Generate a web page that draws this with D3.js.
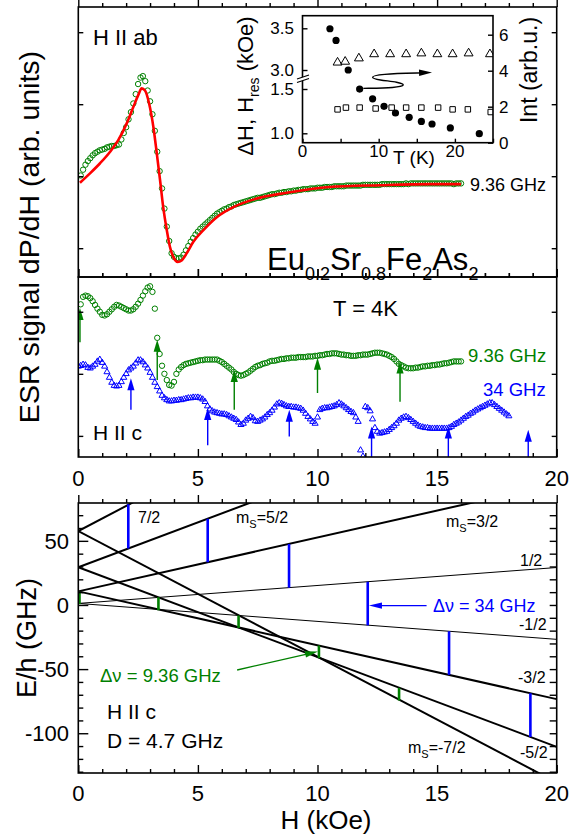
<!DOCTYPE html>
<meta charset="utf-8" />
<style>body { margin: 0; } svg { display: block; }</style>
<svg width="571" height="838"></svg>
<script src="https://d3js.org/d3.v7.min.js"></script>
<script>
    // ---- data ----
    var fieldTicks = d3.range(0, 21);
    var fieldLabels = [0, 5, 10, 15, 20];
    var step = 0.1; // field sweep step, kOe

    // top panel, H || ab, 9.36 GHz (starts at 0.1 kOe)
    var abStart = 0.1;
    var abSig = [
        1.01, 1.09, 1.16, 1.21, 1.25, 1.29, 1.32, 1.34, 1.36, 1.37,
        1.38, 1.40, 1.41, 1.42, 1.42, 1.43, 1.44, 1.51, 1.60, 1.68,
        1.79, 1.89, 2.01, 2.14, 2.28, 2.37, 2.39, 2.32, 2.19, 2.04,
        1.86, 1.63, 1.34, 1.07, 0.83, 0.55, 0.30, 0.10, -0.07, -0.12,
        -0.14, -0.14, -0.13, -0.09, -0.03, 0.03, 0.09, 0.14, 0.19, 0.23,
        0.27, 0.30, 0.33, 0.36, 0.39, 0.42, 0.45, 0.48, 0.50, 0.52,
        0.54, 0.55, 0.57, 0.58, 0.60, 0.61, 0.62, 0.63, 0.64, 0.65,
        0.66, 0.67, 0.68, 0.69, 0.70, 0.70, 0.71, 0.72, 0.73, 0.74,
        0.75, 0.75, 0.76, 0.77, 0.77, 0.78, 0.78, 0.79, 0.79, 0.80,
        0.80, 0.81, 0.81, 0.82, 0.82, 0.82, 0.83, 0.83, 0.83, 0.84,
        0.84, 0.84, 0.85, 0.85, 0.85, 0.85, 0.86, 0.86, 0.86, 0.86,
        0.86, 0.87, 0.87, 0.87, 0.87, 0.87, 0.87, 0.87, 0.88, 0.88,
        0.88, 0.88, 0.88, 0.88, 0.88, 0.88, 0.89, 0.89, 0.89, 0.89,
        0.89, 0.89, 0.89, 0.89, 0.89, 0.89, 0.90, 0.89, 0.90, 0.90,
        0.90, 0.90, 0.90, 0.90, 0.90, 0.90, 0.90, 0.90, 0.90, 0.90,
        0.90, 0.90, 0.90, 0.90, 0.90, 0.90, 0.89, 0.90, 0.90, 0.90
    ];
    // fit (red)
    var fitH = [0.07, 0.49, 0.91, 1.33, 1.67, 2.02, 2.30, 2.51, 2.65, 2.79, 2.96, 3.14, 3.28, 3.42, 3.55, 3.70,
        3.83, 3.97, 4.16, 4.32, 4.53, 4.81, 5.23, 5.79, 6.48, 7.46, 8.71, 10.5, 12.6, 14.7, 16.0];
    var fitSig = [0.91, 1.04, 1.18, 1.34, 1.50, 1.73, 1.96, 2.13, 2.22, 2.19, 2.01, 1.68, 1.32, 0.94, 0.57, 0.25,
        0.02, -0.12, -0.19, -0.17, -0.07, 0.09, 0.25, 0.43, 0.57, 0.69, 0.77, 0.85, 0.875, 0.89, 0.89];

    // middle panel, H || c, 9.36 GHz
    var cStart = 0.1;
    var cSig = [
        2.12, 2.24, 2.26, 2.25, 2.22, 2.17, 2.11, 2.05, 2.00, 1.95,
        1.94, 1.96, 2.00, 2.04, 2.08, 2.11, 2.10, 2.08, 2.06, 2.04,
        2.02, 2.02, 2.04, 2.08, 2.13, 2.19, 2.26, 2.33, 2.39, 2.41,
        2.32, 2.05, 1.58, 1.32, 1.13, 1.00, 0.90, 0.82, 0.81, 0.87,
        1.00, 1.07, 1.11, 1.14, 1.16, 1.17, 1.18, 1.19, 1.20, 1.21,
        1.22, 1.22, 1.23, 1.23, 1.23, 1.23, 1.23, 1.23, 1.21, 1.19,
        1.16, 1.13, 1.10, 1.07, 1.03, 1.00, 0.98, 0.97, 0.98, 1.00,
        1.02, 1.05, 1.08, 1.11, 1.13, 1.14, 1.16, 1.17, 1.18, 1.20,
        1.21, 1.21, 1.22, 1.23, 1.24, 1.24, 1.25, 1.25, 1.26, 1.26,
        1.26, 1.27, 1.27, 1.27, 1.27, 1.28, 1.28, 1.28, 1.29, 1.29,
        1.30, 1.30, 1.31, 1.32, 1.32, 1.33, 1.33, 1.33, 1.32, 1.31,
        1.31, 1.30, 1.30, 1.29, 1.29, 1.29, 1.30, 1.30, 1.31, 1.31,
        1.31, 1.32, 1.33, 1.34, 1.34, 1.34, 1.33, 1.32, 1.31, 1.29,
        1.27, 1.24, 1.20, 1.16, 1.14, 1.12, 1.10, 1.09, 1.09, 1.09,
        1.10, 1.10, 1.11, 1.12, 1.12, 1.13, 1.13, 1.14, 1.14, 1.15,
        1.15, 1.16, 1.17, 1.17, 1.18, 1.19, 1.20, 1.20, 1.20, 1.20
    ];
    // middle panel, H || c, 34 GHz
    var qStart = 0.0;
    var qSig = [
        1.12, 1.13, 1.15, 1.14, 1.10, 1.09, 1.12, 1.15, 1.20, 1.23,
        1.18, 1.12, 1.03, 0.94, 0.86, 0.81, 0.80, 0.81, 0.87, 0.94,
        1.00, 1.06, 1.09, 1.12, 1.17, 1.22, 1.22, 1.19, 1.14, 1.09,
        1.02, 0.94, 0.86, 0.79, 0.72, 0.65, 0.61, 0.58, 0.56, 0.56,
        0.57, 0.57, 0.58, 0.58, 0.59, 0.60, 0.61, 0.61, 0.62, 0.62,
        0.62, 0.61, 0.59, 0.55, 0.48, 0.43, 0.40, 0.38, 0.37, 0.36,
        0.35, 0.35, 0.34, 0.32, 0.30, 0.28, 0.26, 0.22, 0.18, 0.20,
        0.25, 0.28, 0.31, 0.29, 0.24, 0.23, 0.25, 0.27, 0.30, 0.34,
        0.37, 0.41, 0.46, 0.51, 0.53, 0.52, 0.50, 0.48, 0.47, 0.47,
        0.46, 0.46, 0.45, 0.44, 0.41, 0.36, 0.31, 0.27, 0.23, 0.20,
        0.30, 0.42, 0.44, 0.45, 0.45, 0.46, 0.47, 0.48, 0.50, 0.53,
        0.51, 0.48, 0.45, 0.42, 0.39, 0.37, 0.30, 0.23, -0.23, -0.33,
        0.47, 0.45, 0.40, 0.27, 0.13, 0.07, 0.04, 0.05, 0.06, 0.07,
        0.10, 0.13, 0.16, 0.20, 0.25, 0.28, 0.30, 0.31, 0.29, 0.26,
        0.23, 0.20, 0.17, 0.15, 0.14, 0.13, 0.13, 0.12, 0.12, 0.12,
        0.12, 0.12, 0.12, 0.12, 0.12, 0.13, 0.15, 0.18, 0.20, 0.22,
        0.25, 0.28, 0.31, 0.33, 0.36, 0.38, 0.41, 0.43, 0.45, 0.47,
        0.49, 0.51, 0.53, 0.53, 0.50, 0.47, 0.44, 0.41, 0.38, 0.35,
        0.32
    ];
    // resonance arrows (H, tip, tail)
    var gArrH = [0.07, 3.3, 6.52, 10.0, 13.45];
    var gArrTip = [2.06, 1.55, 1.06, 1.26, 1.20];
    var gArrTail = [1.51, 0.90, 0.42, 0.69, 0.55];
    var bArrH = [2.2, 5.41, 8.82, 12.26, 15.47, 18.81];
    var bArrTip = [0.93, 0.45, 0.42, 0.15, 0.15, 0.10];
    var bArrTail = [0.42, -0.15, -0.01, -0.34, -0.34, -0.34];

    // inset: T dependence
    var intT = [3.6, 4.4, 6.0, 7.5, 9.2, 10.7, 12.2, 14.0, 15.6, 17.0, 19.4, 23.2];
    var intVal = [6.33, 5.68, 4.04, 2.98, 2.44, 2.02, 1.65, 1.41, 1.18, 1.04, 0.82, 0.50];
    var resT = [4.6, 5.6, 7.4, 9.4, 11.5, 13.6, 15.6, 17.7, 19.7, 21.8, 24.6];
    var resH = [3.09, 3.10, 3.14, 3.19, 3.19, 3.19, 3.20, 3.19, 3.19, 3.20, 3.19];
    var widT = [4.6, 5.7, 7.5, 9.6, 11.7, 13.6, 15.6, 17.8, 19.7, 21.7, 24.7];
    var widH = [1.27, 1.29, 1.29, 1.28, 1.29, 1.29, 1.29, 1.29, 1.27, 1.27, 1.24];
    var insetLeftTicks = [1.0, 1.5, 3.0, 3.5];
    var insetRightTicks = [0, 2, 4, 6];
    var insetTTicks = [0, 5, 10, 15, 20, 25];

    // bottom panel: energy levels, E/h at H=0 and H=20 kOe
    var levelM = ["7/2", "5/2", "3/2", "1/2", "-1/2", "-3/2", "-5/2", "-7/2"];
    var levelE0 = [57.6, 29.4, 10.6, 1.2, 1.2, 10.6, 29.4, 57.6];
    var levelE20 = [253.6, 169.4, 94.6, 29.2, -26.8, -73.4, -110.6, -138.4];
    var levelThin = [false, false, false, true, true, false, false, false];
    var blueTrH = [2.09, 5.41, 8.81, 12.1, 15.5, 18.9];
    var blueTrLo = [44.0, 33.3, 13.5, -15.9, -54.5, -103];
    var blueTrHi = [78.5, 67.3, 47.6, 18.1, -20.5, -68.8];
    var greenTrH = [0.05, 3.35, 6.7, 10.06, 13.41];
    var greenTrLo = [0.5, -4.2, -18, -41.5, -74.5];
    var greenTrHi = [10.3, 6.0, -8.2, -31.6, -64.6];
    var eLabels = [50, 0, -50, -100];
    var eTicks = d3.range(-130, 80, 10);

    // ---- setup ----
    var svg = d3.select("svg")
        .style("font-family", "'Liberation Sans', Arial, sans-serif");
    svg.append("rect").attr("width", 571).attr("height", 838).attr("fill", "#fff");

    var green = "#008000", blue = "#0000ff", red = "#ff0000";

    var x = d3.scaleLinear().domain([0, 20]).range([78.3, 556.7]);
    var yTop = d3.scaleLinear().domain([-0.4, 3.35]).range([277, 7]);
    var yMid = d3.scaleLinear().domain([-0.34, 2.56]).range([457, 277]);
    var yBot = d3.scaleLinear().domain([-131, 79.5]).range([773, 503]);
    var tx = d3.scaleLinear().domain([0, 25]).range([302.5, 493]);
    var tyL = d3.scaleLinear().domain([1.0, 1.5, 3.0, 3.5]).range([133.3, 89, 70, 28.3]);
    var tyR = d3.scaleLinear().domain([0, 6]).range([142.7, 34.7]);

    function clip(id, x0, y0, x1, y1) {
        svg.append("clipPath").attr("id", id).append("rect")
            .attr("x", x0).attr("y", y0).attr("width", x1 - x0).attr("height", y1 - y0);
        return "url(#" + id + ")";
    }

    function axis(gen, pos, horiz, vals, inner, major, majorLen) {
        var g = svg.append("g")
            .attr("transform", horiz ? "translate(0," + pos + ")" : "translate(" + pos + ",0)")
            .call(gen.tickValues(vals).tickSizeOuter(0).tickSizeInner(-inner).tickFormat(""));
        g.select(".domain").remove();
        g.selectAll(".tick line").attr("stroke-width", 1.4);
        if (major) {
            g.selectAll(".tick line").filter(major)
                .attr(horiz ? "y2" : "x2", function() {
                    var v = +d3.select(this).attr(horiz ? "y2" : "x2");
                    return v < 0 ? -majorLen : majorLen;
                });
        }
        return g;
    }
    function isFive(d) { return d % 5 === 0; }

    function frame(x0, y0, x1, y1) {
        svg.append("rect").attr("x", x0).attr("y", y0).attr("width", x1 - x0).attr("height", y1 - y0)
            .attr("fill", "none").attr("stroke", "#000").attr("stroke-width", 1.6);
    }

    function text(t, xx, yy, size, color, anchor) {
        return svg.append("text").attr("x", xx).attr("y", yy).attr("font-size", size)
            .attr("fill", color || "#000").attr("text-anchor", anchor || "start").text(t);
    }

    function head(g, x1, y1, x2, y2, len, half, color) {
        var a = Math.atan2(y2 - y1, x2 - x1);
        var bx = x2 - len * Math.cos(a), by = y2 - len * Math.sin(a);
        var px = -Math.sin(a) * half, py = Math.cos(a) * half;
        g.append("path")
            .attr("d", "M" + x2 + "," + y2 + "L" + (bx + px) + "," + (by + py) + "L" + (bx - px) + "," + (by - py) + "Z")
            .attr("fill", color);
    }

    // ---- top panel ----
    var topClip = clip("ctop", 78.3, 7, 556.7, 277);
    var abPts = abSig.map(function(v, i) { return [abStart + i * step, v]; });
    svg.append("g").attr("clip-path", topClip).selectAll("circle").data(abPts).enter().append("circle")
        .attr("cx", function(d) { return x(d[0]); })
        .attr("cy", function(d) { return yTop(d[1]); })
        .attr("r", 2.7).attr("fill", "none").attr("stroke", green).attr("stroke-width", 1);
    var fitPts = fitH.map(function(h, i) { return [h, fitSig[i]]; });
    svg.append("path").attr("clip-path", topClip).datum(fitPts)
        .attr("d", d3.line().x(function(d) { return x(d[0]); }).y(function(d) { return yTop(d[1]); }).curve(d3.curveMonotoneX))
        .attr("fill", "none").attr("stroke", red).attr("stroke-width", 2.6);

    axis(d3.axisTop(x), 7, true, fieldTicks, -4, isFive, 8);
    axis(d3.axisBottom(x), 277, true, fieldTicks, 4, isFive, 8);
    axis(d3.axisLeft(yTop), 78.3, false, [0, 1, 2, 3], 5);
    axis(d3.axisRight(yTop), 556.7, false, [0, 1, 2, 3], 5);
    frame(78.3, 7, 556.7, 277);

    text("H II ab", 93, 45, 22);
    text("9.36 GHz", 470, 190.5, 18);
    var formula = svg.append("text").attr("x", 267).attr("y", 270);
    [["Eu", 0], ["0.2", 1], ["Sr", 0], ["0.8", 1], ["Fe", 0], ["2", 1], ["As", 0], ["2", 1]].forEach(function(p) {
        formula.append("tspan").attr("y", p[1] ? 280 : 270).attr("font-size", p[1] ? 18 : 31).text(p[0]);
    });

    // ---- inset ----
    var insClip = clip("cins", 302.5, 15.7, 493, 142.7);
    var ins = svg.append("g").attr("clip-path", insClip);
    ins.selectAll(".ci").data(intT).enter().append("circle")
        .attr("cx", function(d) { return tx(d); })
        .attr("cy", function(d, i) { return tyR(intVal[i]); })
        .attr("r", 3.6).attr("fill", "#000");
    ins.selectAll(".tr").data(resT).enter().append("path")
        .attr("transform", function(d, i) { return "translate(" + tx(d) + "," + tyL(resH[i]) + ")"; })
        .attr("d", d3.symbol().type(d3.symbolTriangle).size(34))
        .attr("fill", "none").attr("stroke", "#000").attr("stroke-width", 1);
    ins.selectAll(".sq").data(widT).enter().append("path")
        .attr("transform", function(d, i) { return "translate(" + tx(d) + "," + tyL(widH[i]) + ")"; })
        .attr("d", d3.symbol().type(d3.symbolSquare).size(30))
        .attr("fill", "none").attr("stroke", "#000").attr("stroke-width", 1);

    // S-shaped arrow from Int circles to the right axis
    var sPath = [[7.98, 3.02], [12.3, 3.05], [13.6, 3.2], [12.6, 3.37], [10.0, 3.48], [8.8, 3.63], [10.0, 3.82], [16.0, 3.88]];
    var sg = svg.append("g");
    sg.append("path").datum(sPath)
        .attr("d", d3.line().x(function(d) { return tx(d[0]); }).y(function(d) { return tyR(d[1]); }).curve(d3.curveBasis))
        .attr("fill", "none").attr("stroke", "#000").attr("stroke-width", 1.4);
    head(sg, tx(15.0), tyR(3.88), tx(17.0), tyR(3.9), 13, 3.3, "#000");

    axis(d3.axisBottom(tx), 142.7, true, insetTTicks, 4);
    axis(d3.axisLeft(tyL), 302.5, false, insetLeftTicks, 5);
    axis(d3.axisRight(tyR), 493, false, insetRightTicks, 5);
    frame(302.5, 15.7, 493, 142.7);
    // axis break
    svg.append("path").attr("d", "M297,79L309,75L309,78.5L297,82.5Z").attr("fill", "#fff");
    svg.append("path").attr("d", "M297,79L309,75M297,82.5L309,78.5").attr("stroke", "#000").attr("stroke-width", 1.2);

    svg.selectAll(".ilab").data(insetLeftTicks).enter().append("text")
        .attr("x", 294).attr("y", function(d) { return tyL(d) + 6; })
        .attr("text-anchor", "end").attr("font-size", 17).text(function(d) { return d.toFixed(1); });
    svg.selectAll(".irab").data(insetRightTicks).enter().append("text")
        .attr("x", 499).attr("y", function(d) { return tyR(d) + 6; })
        .attr("font-size", 17).text(function(d) { return d; });
    svg.selectAll(".itab").data([0, 10, 20]).enter().append("text")
        .attr("x", function(d) { return tx(d); }).attr("y", 157)
        .attr("text-anchor", "middle").attr("font-size", 17).text(function(d) { return d; });
    text("T (K)", 414, 164, 19, "#000", "middle");
    var lt = svg.append("text").attr("transform", "translate(253,86) rotate(-90)")
        .attr("text-anchor", "middle").attr("font-size", 22);
    lt.append("tspan").text("ΔH, H");
    lt.append("tspan").attr("font-size", 14).attr("dy", 6).text("res");
    lt.append("tspan").attr("dy", -6).text(" (kOe)");
    svg.append("text").attr("transform", "translate(537,70) rotate(-90)")
        .attr("text-anchor", "middle").attr("font-size", 23).text("Int (arb.u.)");

    // ---- middle panel ----
    var midClip = clip("cmid", 78.3, 277, 556.7, 457);
    var cPts = cSig.map(function(v, i) { return [cStart + i * step, v]; });
    var qPts = qSig.map(function(v, i) { return [qStart + i * step, v]; });
    var mid = svg.append("g").attr("clip-path", midClip);
    mid.selectAll(".cc").data(cPts).enter().append("circle")
        .attr("cx", function(d) { return x(d[0]); })
        .attr("cy", function(d) { return yMid(d[1]); })
        .attr("r", 2.7).attr("fill", "none").attr("stroke", green).attr("stroke-width", 1);
    mid.selectAll(".qq").data(qPts).enter().append("path")
        .attr("transform", function(d) { return "translate(" + x(d[0]) + "," + yMid(d[1]) + ")"; })
        .attr("d", d3.symbol().type(d3.symbolTriangle).size(16))
        .attr("fill", "none").attr("stroke", blue).attr("stroke-width", 1);

    function upArrows(hs, tips, tails, color) {
        hs.forEach(function(h, i) {
            var xx = x(h), yt = yMid(tips[i]), yb = yMid(tails[i]);
            mid.append("line").attr("x1", xx).attr("x2", xx).attr("y1", yb).attr("y2", yt + 6)
                .attr("stroke", color).attr("stroke-width", 1.4);
            head(mid, xx, yb, xx, yt, 12, 3.6, color);
        });
    }
    upArrows(gArrH, gArrTip, gArrTail, green);
    upArrows(bArrH, bArrTip, bArrTail, blue);

    axis(d3.axisBottom(x), 457, true, fieldTicks, 4, isFive, 8);
    axis(d3.axisTop(x), 277, true, fieldTicks, -4, isFive, 8);
    axis(d3.axisLeft(yMid), 78.3, false, [0, 1, 2], 5);
    axis(d3.axisRight(yMid), 556.7, false, [0, 1, 2], 5);
    frame(78.3, 277, 556.7, 457);

    svg.selectAll(".mxl").data(fieldLabels).enter().append("text")
        .attr("x", function(d) { return x(d); }).attr("y", 486)
        .attr("text-anchor", "middle").attr("font-size", 22).text(function(d) { return d; });
    text("T = 4K", 333, 316, 22);
    text("H II c", 93, 440, 21);
    text("9.36 GHz", 468, 361.5, 18.5, green);
    text("34 GHz", 483, 396, 18.5, blue);
    svg.append("text").attr("transform", "translate(38.5,237) rotate(-90)")
        .attr("text-anchor", "middle").attr("font-size", 28.5).text("ESR signal dP/dH (arb. units)");

    // ---- bottom panel ----
    var botClip = clip("cbot", 78.3, 503, 556.7, 773);
    var bot = svg.append("g").attr("clip-path", botClip);
    levelM.forEach(function(m, i) {
        bot.append("line").attr("x1", x(0)).attr("y1", yBot(levelE0[i]))
            .attr("x2", x(20)).attr("y2", yBot(levelE20[i]))
            .attr("stroke", "#000").attr("stroke-width", levelThin[i] ? 1 : 2);
    });
    function bars(hs, lo, hi, color) {
        hs.forEach(function(h, i) {
            bot.append("line").attr("x1", x(h)).attr("x2", x(h))
                .attr("y1", yBot(lo[i])).attr("y2", yBot(hi[i]))
                .attr("stroke", color).attr("stroke-width", 2.6);
        });
    }
    bars(blueTrH, blueTrLo, blueTrHi, blue);
    bars(greenTrH, greenTrLo, greenTrHi, green);

    // pointers from the labels to the transitions
    var ann = svg.append("g");
    ann.append("line").attr("x1", x(14.56)).attr("y1", yBot(-0.5)).attr("x2", x(12.6)).attr("y2", yBot(-0.5))
        .attr("stroke", blue).attr("stroke-width", 1.3);
    head(ann, x(14.56), yBot(-0.5), x(12.15), yBot(-0.5), 13, 3.2, blue);
    ann.append("line").attr("x1", x(6.64)).attr("y1", yBot(-50.7)).attr("x2", x(9.6)).attr("y2", yBot(-38.1))
        .attr("stroke", green).attr("stroke-width", 1.3);
    head(ann, x(6.64), yBot(-50.7), x(10.02), yBot(-36.3), 13, 3.2, green);

    axis(d3.axisTop(x), 503, true, fieldTicks, -4, isFive, 8);
    axis(d3.axisBottom(x), 773, true, fieldTicks, 4, isFive, 8);
    axis(d3.axisLeft(yBot), 78.3, false, eTicks, 5, function(d) { return d % 50 === 0; }, 10);
    axis(d3.axisRight(yBot), 556.7, false, eTicks, 7);
    frame(78.3, 503, 556.7, 773);

    svg.selectAll(".bxl").data(fieldLabels).enter().append("text")
        .attr("x", function(d) { return x(d); }).attr("y", 800.5)
        .attr("text-anchor", "middle").attr("font-size", 22).text(function(d) { return d; });
    svg.selectAll(".byl").data(eLabels).enter().append("text")
        .attr("x", 69).attr("y", function(d) { return yBot(d) + 8; })
        .attr("text-anchor", "end").attr("font-size", 22).text(function(d) { return d; });
    text("H (kOe)", 326, 829, 26, "#000", "middle");
    svg.append("text").attr("transform", "translate(36,638) rotate(-90)")
        .attr("text-anchor", "middle").attr("font-size", 27).text("E/h (GHz)");

    function mLabel(val, xx, yy) {
        var t = svg.append("text").attr("x", xx).attr("y", yy).attr("font-size", 16);
        t.append("tspan").text("m");
        t.append("tspan").attr("font-size", 11).attr("dy", 5).text("S");
        t.append("tspan").attr("dy", -5).text("=" + val);
    }
    text("7/2", 138, 523, 16);
    mLabel("5/2", 236, 523);
    mLabel("3/2", 446, 527);
    text("1/2", 520, 566, 16);
    text("-1/2", 519, 630, 16);
    text("-3/2", 518, 683, 16);
    text("-5/2", 520, 758, 16);
    mLabel("-7/2", 408, 753);
    text("Δν = 34 GHz", 433, 612, 18, blue);
    text("Δν = 9.36 GHz", 100, 682, 18.5, green);
    text("H II c", 107, 719, 21);
    text("D = 4.7 GHz", 107, 748, 21);
</script>
